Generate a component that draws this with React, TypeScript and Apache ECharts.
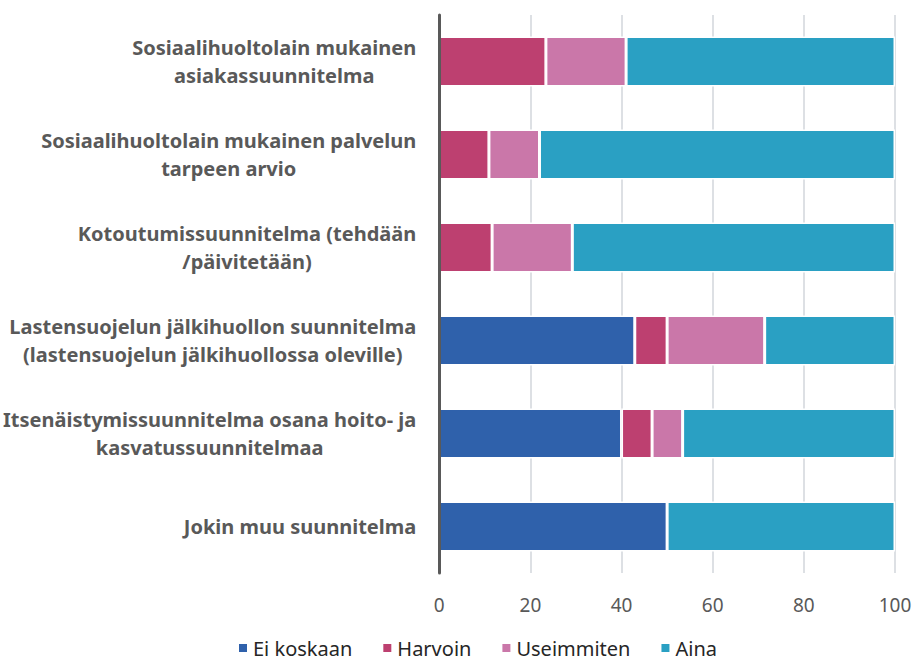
import React, { useEffect, useRef } from "react";
import * as echarts from "echarts";

const categories = [
  "Sosiaalihuoltolain mukainen\nasiakassuunnitelma",
  "Sosiaalihuoltolain mukainen palvelun\ntarpeen arvio",
  "Kotoutumissuunnitelma (tehdään\n/päivitetään)",
  "Lastensuojelun jälkihuollon suunnitelma\n(lastensuojelun jälkihuollossa oleville)",
  "Itsenäistymissuunnitelma osana hoito- ja\nkasvatussuunnitelmaa",
  "Jokin muu suunnitelma",
];

const seriesNames = ["Ei koskaan", "Harvoin", "Useimmiten", "Aina"];
const eiKoskaan = [0, 0, 0, 42.9, 40.0, 50.0];
const harvoin = [23.4, 10.9, 11.6, 7.1, 6.7, 0];
const useimmiten = [17.6, 11.1, 17.6, 21.4, 6.7, 0];
const aina = [59.0, 78.0, 70.8, 28.6, 46.6, 50.0];
const xTicks = [0, 20, 40, 60, 80, 100];

const colors = ["#2f61ab", "#bd4070", "#ca77a9", "#2aa0c3"];
const FONT = "Noto Sans";

export default function App() {
  const ref = useRef<HTMLDivElement>(null);
  useEffect(() => {
    if (!ref.current) return;
    const chart = echarts.init(ref.current, undefined, { renderer: "svg" });
    const values = [eiKoskaan, harvoin, useimmiten, aina];
    chart.setOption({
      animation: false,
      grid: { left: 438, right: 27, top: 15, bottom: 89, containLabel: false },
      legend: {
        bottom: 4,
        left: 237,
        padding: 0,
        icon: "rect",
        itemWidth: 10,
        itemHeight: 10,
        itemGap: 29,
        textStyle: { fontFamily: FONT, fontSize: 20, color: "#262626", lineHeight: 20 },
        data: seriesNames,
      },
      xAxis: {
        type: "value",
        min: xTicks[0],
        max: xTicks[xTicks.length - 1],
        interval: 20,
        axisLine: { show: false },
        axisTick: { show: false },
        splitLine: { show: true, lineStyle: { color: "#dde0e4", width: 2 } },
        axisLabel: {
          fontFamily: FONT,
          fontSize: 19,
          color: "#595959",
          margin: 22,
        },
      },
      yAxis: {
        type: "category",
        inverse: true,
        data: categories,
        z: 10,
        axisLine: { show: true, lineStyle: { color: "#595959", width: 3 } },
        axisTick: { show: false },
        axisLabel: {
          margin: 23,
          formatter: (v: string) =>
            v
              .split("\n")
              .map((l) => `{a|${l}}`)
              .join("\n"),
          rich: {
            a: {
              fontFamily: FONT,
              fontWeight: "bold",
              fontSize: 20,
              color: "#595959",
              align: "center",
              lineHeight: 28,
            },
          },
        },
      },
      series: seriesNames.map((name, i) => ({
        name,
        type: "bar",
        stack: "total",
        barWidth: "54%",
        data: values[i],
        itemStyle: { color: colors[i], borderColor: "#ffffff", borderWidth: 1.5 },
      })),
    });
    return () => chart.dispose();
  }, []);
  return (
    <div
      ref={ref}
      style={{ position: "absolute", left: 0, top: 0, width: 922, height: 662 }}
    />
  );
}
